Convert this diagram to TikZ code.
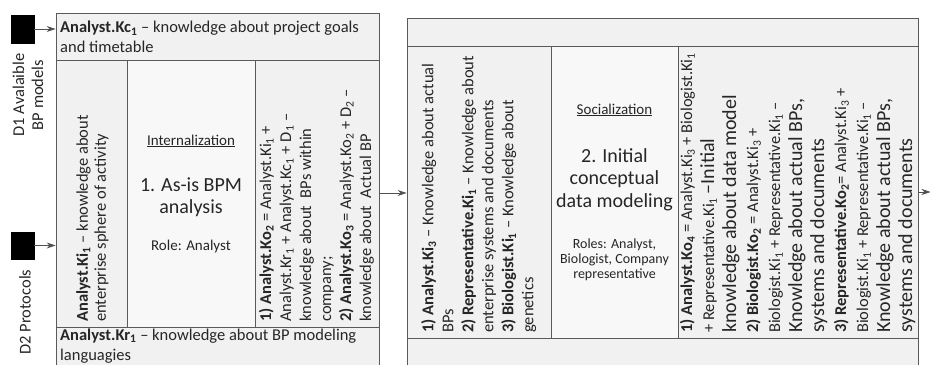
\documentclass[tikz,border=0pt]{standalone}
\usepackage{fontspec}
\setmainfont{Carlito}
\usetikzlibrary{arrows.meta,fit}
\newcommand\sbs[1]{\textsubscript{#1}}
\newcommand\bigtxt{\fontsize{20}{22}\selectfont}
\definecolor{frame}{HTML}{5A5A5A}
\definecolor{cellfill}{HTML}{F1F1F1}
\definecolor{midfill}{HTML}{F8F8F8}
\definecolor{arrowgray}{HTML}{505050}
\begin{document}
\begin{tikzpicture}[x=1pt,y=-1pt,
  cell/.style={draw=frame, fill=cellfill, line width=0.8pt, inner sep=0pt, fit={#1}},
  midcell/.style={cell={#1}, fill=midfill},
  docbox/.style={draw=black, fill=black, inner sep=0pt, fit={#1}},
  txt/.style={inner sep=0pt, align=left, text=black!85, font=\fontsize{16.5}{20}\selectfont},
  vtxt/.style={txt, rotate=90, anchor=north west},
  midtxt/.style={inner sep=0pt, anchor=base, text=black!85, font=\fontsize{#1}{#1}\selectfont},
  flow/.style={draw=arrowgray, line width=0.8pt, -{Stealth[length=9pt,width=6pt]}}]
\useasboundingbox (0,0) rectangle (931,364);

% input documents
\node[docbox={(11,15) (34,43)}] (d1) {};
\node[docbox={(11,232) (34,259)}] (d2) {};
\node[txt, align=center, rotate=90, font=\fontsize{16.5}{19}\selectfont] (d1lab) at (28,95) {D1 Avalaible\\BP models};
\node[txt, rotate=90] (d2lab) at (25,312) {D2 Protocols};

% stage 1: as-is BPM analysis
\node[cell={(56,13) (379,60)}] (b1top) {};
\node[cell={(56,60) (127,327)}] (b1left) {};
\node[midcell={(127,60) (255,327)}] (b1mid) {};
\node[cell={(255,60) (379,327)}] (b1right) {};
\node[cell={(56,327) (379,370)}] (b1bot) {};

\node[txt, anchor=north west] (kc1) at (60,21.2)
  {\textbf{Analyst.Kc\sbs{1}} – knowledge about project goals\\and timetable};
\node[txt, anchor=north west] (kr1) at (60,328.6)
  {\textbf{Analyst.Kr\sbs{1}} – knowledge about BP modeling\\languagies};
\node[vtxt, font=\fontsize{16.5}{18}\selectfont] (ki1) at (76.1,322)
  {\textbf{Analyst.Ki\sbs{1}} – knowledge about\\enterprise sphere of activity};
\node[vtxt] (ko1) at (258.7,322)
  {\textbf{1) Analyst.Ko\sbs{2}} = Analyst.Ki\sbs{1} +\\
   Analyst.Kr\sbs{1} + Analyst.Kc\sbs{1} + D\sbs{1} –\\
   knowledge about\ \ BPs within\\
   company;\\
   \textbf{2) Analyst.Ko\sbs{3}} = Analyst.Ko\sbs{2} + D\sbs{2} –\\
   knowledge about\ \ Actual BP};

\node[midtxt=15] (m1a) at (191,145) {\underline{Internalization}};
\node[midtxt=20] (m1b) at (191,191.5) {1. As-is BPM};
\node[midtxt=20] (m1c) at (191,213.5) {analysis};
\node[midtxt=15] (m1d) at (191,250) {Role: Analyst};

% stage 2: initial conceptual data modeling
\node[cell={(407,18) (918,46)}] (b2top) {};
\node[cell={(407,46) (551,338)}] (b2left) {};
\node[midcell={(551,46) (678,338)}] (b2mid) {};
\node[cell={(678,46) (918,338)}] (b2right) {};
\node[cell={(407,338) (918,370)}] (b2bot) {};

\node[vtxt] (ki2) at (421,333)
  {\textbf{1) Analyst.Ki\sbs{3}} – Knowledge about actual\\
   BPs\\
   \textbf{2) Representative.Ki\sbs{1}} – Knowledge about\\
   enterprise systems and documents\\
   \textbf{3) Biologist.Ki\sbs{1}} – Knowledge about\\
   genetics};
\node[vtxt, font=\fontsize{16.5}{22}\selectfont] (ko2) at (679.7,333)
  {\textbf{1) Analyst.Ko\sbs{4}} = Analyst.Ki\sbs{3} + Biologist.Ki\sbs{1}\\
   + Representative.Ki\sbs{1} {\bigtxt –Initial}\\
   {\bigtxt knowledge about data model}\\
   \textbf{2) Biologist.Ko\sbs{2}} = Analyst.Ki\sbs{3} +\\
   Biologist.Ki\sbs{1} + Representative.Ki\sbs{1} –\\
   {\bigtxt Knowledge about actual BPs,}\\
   {\bigtxt systems and documents}\\
   \textbf{3) Representative.Ko\sbs{2}}= Analyst.Ki\sbs{3} +\\
   Biologist.Ki\sbs{1} + Representative.Ki\sbs{1} –\\
   {\bigtxt Knowledge about actual BPs,}\\
   {\bigtxt systems and documents}};

\node[midtxt=15] (m2a) at (614.5,114) {\underline{Socialization}};
\node[midtxt=20] (m2b) at (614.5,162) {2. Initial};
\node[midtxt=20] (m2c) at (614.5,184.5) {conceptual};
\node[midtxt=20] (m2d) at (614.5,207) {data modeling};
\node[midtxt=14] (m2e) at (614.5,248) {Roles: Analyst,};
\node[midtxt=14] (m2f) at (614.5,263) {Biologist, Company};
\node[midtxt=14] (m2g) at (614.5,278) {representative};

% connectors
\coordinate (link) at (393,193);
\coordinate (out) at (930.5,192);
\draw[flow] (d1.east) -- (d1.east -| b1top.west);
\draw[flow] (d2.east) -- (d2.east -| b1left.west);
\draw[flow] (b1right.east |- link) -- (b2left.west |- link);
\draw[flow] (b2right.east |- out) -- (out);
\end{tikzpicture}
\end{document}
